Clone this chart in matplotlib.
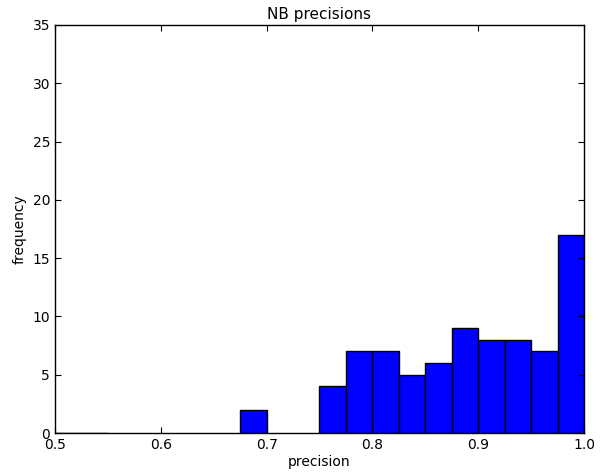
import numpy as np
import matplotlib
matplotlib.use('Agg')
import matplotlib.pyplot as plt

# histogram bins (left edges), width 0.025
bin_lefts = [0.5, 0.525, 0.675, 0.75, 0.775, 0.8, 0.825, 0.85, 0.875, 0.9, 0.925, 0.95, 0.975]
counts    = [0,   0,     2,     4,    7,     7,   5,     6,    9,     8,   8,     7,    17]
bin_width = 0.025

plt.rcParams.update({
    'font.family': 'DejaVu Sans',
    'font.size': 10,
    'xtick.direction': 'in', 'ytick.direction': 'in',
    'xtick.top': True, 'ytick.right': True,
    'xtick.major.size': 4, 'ytick.major.size': 4,
    'axes.linewidth': 1.0,
})

fig = plt.figure(figsize=(6.03, 4.76), dpi=100)
ax = fig.add_axes([0.0912, 0.0903, 0.8773, 0.8572])

ax.bar(bin_lefts, counts, width=bin_width, align='edge',
       color='#0000ff', edgecolor='black', linewidth=1.0)

ax.set_xlim(0.5, 1.0)
ax.set_ylim(0, 35)
ax.set_xticks([0.5, 0.6, 0.7, 0.8, 0.9, 1.0])
ax.set_yticks(range(0, 36, 5))
ax.set_title('NB precisions', fontsize=11, pad=4)
ax.set_xlabel('precision', labelpad=2)
ax.set_ylabel('frequency', labelpad=4)

fig.savefig('out.png', dpi=100)
